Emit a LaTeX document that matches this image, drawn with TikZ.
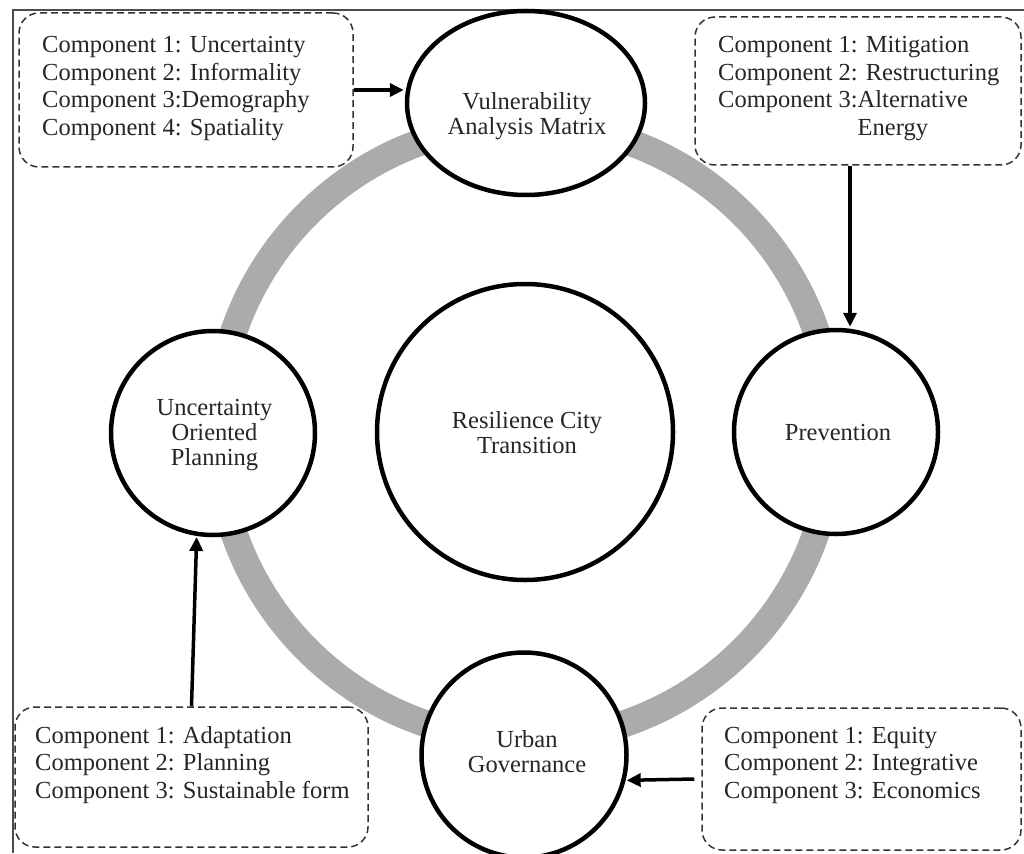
\documentclass[tikz,border=0pt]{standalone}
\usepackage{fontspec}
\setmainfont{Liberation Serif}
\usetikzlibrary{arrows.meta,shapes.geometric}
\begin{document}
\begin{tikzpicture}[x=1pt,y=-1pt,
  ringline/.style={line width=27pt, draw=black!33},
  stage/.style={circle, draw=black, line width=4.5pt, fill=white, inner sep=0pt},
  dbox/.style={draw=black!80, dash pattern=on 7pt off 4pt, line width=1.5pt,
               rounded corners=20pt, inner sep=0pt},
  lbl/.style={inner sep=0pt, text=black!85, font=\fontsize{24.5}{27.5}\selectfont},
  clbl/.style={inner sep=0pt, text=black!85, font=\fontsize{24.5}{25}\selectfont},
  feed/.style={line width=3.5pt, draw=black, shorten >=1pt,
               -{Triangle[length=14pt,width=13pt]}},
  frameline/.style={line width=1.6pt, draw=black!70},
]
\useasboundingbox (0,0) rectangle (1024,853);
\fill[white] (0,0) rectangle (1024,853);

% grey cycle joining the four stages
\coordinate (hub) at (525,432);
\draw[ringline] (hub) circle[radius=308];

% outer frame
\draw[frameline] (13,853) -- (13,10) -- (1024,10);

% dashed component boxes
\node[dbox, minimum width=334, minimum height=154] (tl) at (186,90) {};
\node[dbox, minimum width=326, minimum height=148] (tr) at (858,91) {};
\node[dbox, minimum width=353, minimum height=140] (bl) at (191.5,777) {};
\node[dbox, minimum width=319, minimum height=142] (br) at (861.5,779) {};

% stages
\node[stage, minimum size=296] (core) at (525,432) {};
\node[stage, ellipse, minimum width=238, minimum height=184] (vam) at (526,103) {};
\node[stage, minimum size=204] (prev) at (836,432) {};
\node[stage, minimum size=204] (ucp) at (213,433) {};
\node[stage, minimum size=205] (ug) at (524,755) {};

% stage labels
\node[clbl, anchor=base] (coret) at (527,428)
  {\begin{tabular}[t]{@{}c@{}}Resilience City\\Transition\end{tabular}};
\node[clbl, anchor=base] (vamt) at (527,110)
  {\begin{tabular}[t]{@{}c@{}}Vulnerability\\Analysis Matrix\end{tabular}};
\node[clbl, anchor=base] (prevt) at (838,440) {Prevention};
\node[clbl, anchor=base] (ucpt) at (214.5,415)
  {\begin{tabular}[t]{@{}c@{}}Uncertainty\\Oriented\\Planning\end{tabular}};
\node[clbl, anchor=base] (ugt) at (527,747)
  {\begin{tabular}[t]{@{}c@{}}Urban\\Governance\end{tabular}};

% component lists
\node[lbl, anchor=base west] (tlt) at (42,53)
  {\begin{tabular}[t]{@{}l@{}}Component 1: Uncertainty\\Component 2: Informality\\
   Component 3:Demography\\Component 4: Spatiality\end{tabular}};
\node[lbl, anchor=base west] (trt) at (718,53)
  {\begin{tabular}[t]{@{}l@{}}Component 1: Mitigation\\Component 2: Restructuring\\
   Component 3:Alternative\\\phantom{Component 3:}Energy\end{tabular}};
\node[lbl, anchor=base west] (blt) at (35,743)
  {\begin{tabular}[t]{@{}l@{}}Component 1: Adaptation\\Component 2: Planning\\
   Component 3: Sustainable form\end{tabular}};
\node[lbl, anchor=base west] (brt) at (724,743)
  {\begin{tabular}[t]{@{}l@{}}Component 1: Equity\\Component 2: Integrative\\
   Component 3: Economics\end{tabular}};

% feeds from the boxes into the stages
\draw[feed] (tl.east) -- (tl.east -| vam.west);
\coordinate (trfoot) at ([xshift=-8pt]tr.south);
\draw[feed] (trfoot) -- (trfoot |- prev.north);
\draw[feed] (bl.north) -- (ucp.-99);
\coordinate (brfoot) at ([xshift=-7pt]br.west);
\draw[feed] (brfoot) -- (ug.-14);
\end{tikzpicture}
\end{document}
